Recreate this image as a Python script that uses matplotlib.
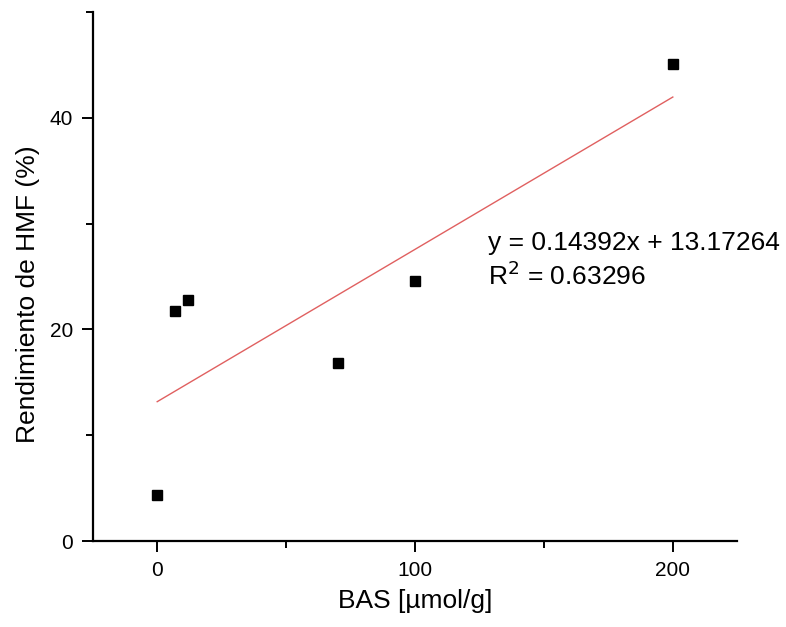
import matplotlib.pyplot as plt
import numpy as np
from matplotlib.ticker import MultipleLocator

plt.rcParams['font.family'] = ['Liberation Sans', 'DejaVu Sans']

# measured points: acid site density vs HMF yield
bas = [0, 7, 12, 70, 100, 200]
yield_hmf = [4.4, 21.7, 22.8, 16.8, 24.6, 45.1]

# linear fit coefficients
slope = 0.14392
intercept = 13.17264
r_squared = 0.63296

fig = plt.figure(figsize=(7.86, 6.27), dpi=100)
ax = fig.add_axes([0.118, 0.137, 0.82, 0.844])

ax.plot(bas, yield_hmf, 's', color='black', markersize=7.5, zorder=3)

x_fit = np.array([min(bas), max(bas)])
ax.plot(x_fit, slope * x_fit + intercept, color='#e06060', lw=1.0, zorder=2)

ax.text(0.614, 0.563, f'y = {slope:.5f}x + {intercept:.5f}', transform=ax.transAxes,
        fontsize=19, ha='left', va='center')
ax.text(0.614, 0.501, f'R$^2$ = {r_squared:.5f}', transform=ax.transAxes,
        fontsize=19, ha='left', va='center')

ax.set_xlim(-25, 225)
ax.set_ylim(0, 50)
ax.xaxis.set_major_locator(MultipleLocator(100))
ax.xaxis.set_minor_locator(MultipleLocator(50))
ax.yaxis.set_major_locator(MultipleLocator(20))
ax.yaxis.set_minor_locator(MultipleLocator(10))

ax.spines['top'].set_visible(False)
ax.spines['right'].set_visible(False)
for s in ('left', 'bottom'):
    ax.spines[s].set_linewidth(1.6)

ax.tick_params(which='major', direction='out', length=8, width=1.4, labelsize=15, pad=6)
ax.tick_params(which='minor', direction='out', length=5, width=1.4)

ax.set_xlabel('BAS [µmol/g]', fontsize=19, labelpad=7)
ax.set_ylabel('Rendimiento de HMF (%)', fontsize=19)
ax.yaxis.set_label_coords(-0.082, 0.467)

fig.savefig('out.png', dpi=100)
